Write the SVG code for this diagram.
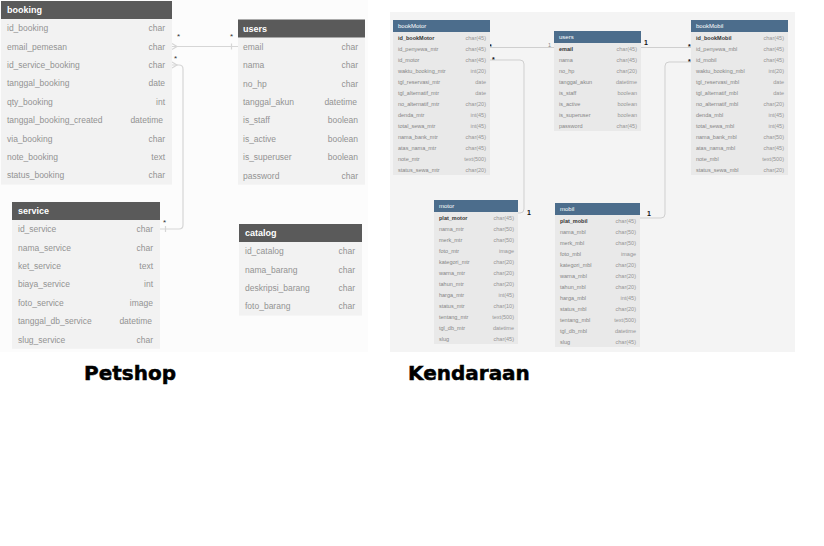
<svg xmlns="http://www.w3.org/2000/svg" width="824" height="546" viewBox="0 0 824 546">
<style>
.lh{fill:#5a5a5a}
.lb{fill:#f2f2f2}
.lht{font-family:"Liberation Sans",Arial,sans-serif;font-size:9px;font-weight:bold;fill:#fff}
.ln{font-family:"Liberation Sans",Arial,sans-serif;font-size:8.5px;fill:#929292}
.lt{font-family:"Liberation Sans",Arial,sans-serif;font-size:8.5px;fill:#929292;text-anchor:end}
.rh{fill:#4c6d8c}
.rb{fill:#e9e9e9}
.rht{font-family:"Liberation Sans",Arial,sans-serif;font-size:6px;fill:#fff}
.rn{font-family:"Liberation Sans",Arial,sans-serif;font-size:5.5px;fill:#858585}
.rk{font-family:"Liberation Sans",Arial,sans-serif;font-size:5.5px;font-weight:bold;fill:#333}
.rt{font-family:"Liberation Sans",Arial,sans-serif;font-size:5.5px;fill:#959595;text-anchor:end}
.lc{fill:none;stroke:#d6d6d6;stroke-width:1.2}
.rc{fill:none;stroke:#cfcfcf;stroke-width:1}
.st{font-family:"Liberation Sans",Arial,sans-serif;font-size:8px;fill:#333}
.sr{font-family:"Liberation Sans",Arial,sans-serif;font-size:7px;font-weight:bold;fill:#111}
.one{font-family:"Liberation Sans",Arial,sans-serif;font-size:7px;font-weight:bold;fill:#111}
.title{font-family:"DejaVu Sans",sans-serif;font-size:20px;font-weight:bold;fill:#000;stroke:#000;stroke-width:0.5}
</style>
<rect x="0" y="0" width="824" height="546" fill="#ffffff"/>
<rect x="0" y="0" width="368" height="352" fill="#fcfcfc"/>
<rect x="390" y="12" width="405" height="340" fill="#f4f4f4"/>

<g id="connectors">
  <path class="lc" d="M172,46.5 H238"/>
  <path class="lc" d="M172,43.5 L177,46.5 L172,49.5"/>
  <path class="lc" d="M231.5,43.5 V49.5"/>
  <text class="st" x="177" y="39">*</text>
  <text class="st" x="230" y="39">*</text>
  <path class="lc" d="M172,65 H179 Q183,65 183,69 V225 Q183,229 179,229 H160"/>
  <path class="lc" d="M172,62 L177,65 L172,68"/>
  <path class="lc" d="M165.5,226 V232"/>
  <text class="st" x="174" y="61">*</text>
  <text class="st" x="163" y="225">*</text>

  <path class="rc" d="M490,47.5 H554"/>
  <text class="sr" x="489" y="49">*</text>
  <text class="rn" x="548" y="47">1</text>
  <path class="rc" d="M490,60 H520 Q524,60 524,64 V209 Q524,213 520,213 H518"/>
  <text class="sr" x="492" y="62">*</text>
  <text class="one" x="527" y="215">1</text>
  <path class="rc" d="M641,47.5 H691"/>
  <text class="one" x="644" y="45">1</text>
  <text class="sr" x="688" y="49">*</text>
  <path class="rc" d="M640,218 H661 Q665,218 665,214 V66 Q665,62 669,62 H691"/>
  <text class="one" x="647" y="216">1</text>
  <text class="sr" x="688" y="64">*</text>
</g>

<g id="booking">
  <rect class="lb" x="1" y="19" width="171" height="165.6"/>
  <rect class="lh" x="1" y="1" width="171" height="18"/>
  <text class="lht" x="7" y="13">booking</text>
  <text class="ln" x="7" y="31.2">id_booking</text><text class="lt" x="165" y="31.2">char</text>
  <text class="ln" x="7" y="49.6">email_pemesan</text><text class="lt" x="165" y="49.6">char</text>
  <text class="ln" x="7" y="68">id_service_booking</text><text class="lt" x="165" y="68">char</text>
  <text class="ln" x="7" y="86.4">tanggal_booking</text><text class="lt" x="165" y="86.4">date</text>
  <text class="ln" x="7" y="104.8">qty_booking</text><text class="lt" x="165" y="104.8">int</text>
  <text class="ln" x="7" y="123.2">tanggal_booking_created</text><text class="lt" x="163" y="123.2">datetime</text>
  <text class="ln" x="7" y="141.6">via_booking</text><text class="lt" x="165" y="141.6">char</text>
  <text class="ln" x="7" y="160">note_booking</text><text class="lt" x="165" y="160">text</text>
  <text class="ln" x="7" y="178.4">status_booking</text><text class="lt" x="165" y="178.4">char</text>
</g>

<g id="users">
  <rect class="lb" x="238" y="37.5" width="127" height="147.2"/>
  <rect class="lh" x="238" y="19.5" width="127" height="18"/>
  <text class="lht" x="243" y="31.5">users</text>
  <text class="ln" x="243" y="49.7">email</text><text class="lt" x="358" y="49.7">char</text>
  <text class="ln" x="243" y="68.1">nama</text><text class="lt" x="358" y="68.1">char</text>
  <text class="ln" x="243" y="86.5">no_hp</text><text class="lt" x="358" y="86.5">char</text>
  <text class="ln" x="243" y="104.9">tanggal_akun</text><text class="lt" x="357" y="104.9">datetime</text>
  <text class="ln" x="243" y="123.3">is_staff</text><text class="lt" x="358" y="123.3">boolean</text>
  <text class="ln" x="243" y="141.7">is_active</text><text class="lt" x="358" y="141.7">boolean</text>
  <text class="ln" x="243" y="160.1">is_superuser</text><text class="lt" x="358" y="160.1">boolean</text>
  <text class="ln" x="243" y="178.5">password</text><text class="lt" x="358" y="178.5">char</text>
</g>

<g id="service">
  <rect class="lb" x="12" y="220" width="148" height="128.8"/>
  <rect class="lh" x="12" y="202" width="148" height="18"/>
  <text class="lht" x="18" y="214">service</text>
  <text class="ln" x="18" y="232.2">id_service</text><text class="lt" x="153" y="232.2">char</text>
  <text class="ln" x="18" y="250.6">nama_service</text><text class="lt" x="153" y="250.6">char</text>
  <text class="ln" x="18" y="269">ket_service</text><text class="lt" x="153" y="269">text</text>
  <text class="ln" x="18" y="287.4">biaya_service</text><text class="lt" x="153" y="287.4">int</text>
  <text class="ln" x="18" y="305.8">foto_service</text><text class="lt" x="153" y="305.8">image</text>
  <text class="ln" x="18" y="324.2">tanggal_db_service</text><text class="lt" x="152" y="324.2">datetime</text>
  <text class="ln" x="18" y="342.6">slug_service</text><text class="lt" x="153" y="342.6">char</text>
</g>

<g id="catalog">
  <rect class="lb" x="239" y="242" width="123" height="73.6"/>
  <rect class="lh" x="239" y="224" width="123" height="18"/>
  <text class="lht" x="245" y="236">catalog</text>
  <text class="ln" x="245" y="254.2">id_catalog</text><text class="lt" x="355" y="254.2">char</text>
  <text class="ln" x="245" y="272.6">nama_barang</text><text class="lt" x="355" y="272.6">char</text>
  <text class="ln" x="245" y="291">deskripsi_barang</text><text class="lt" x="355" y="291">char</text>
  <text class="ln" x="245" y="309.4">foto_barang</text><text class="lt" x="355" y="309.4">char</text>
</g>

<g id="bookMotor">
  <rect class="rb" x="393" y="32" width="97" height="143"/>
  <rect class="rh" x="393" y="20" width="97" height="12"/>
  <text class="rht" x="398" y="28.2">bookMotor</text>
  <text class="rk" x="398" y="39.5">id_bookMotor</text><text class="rt" x="486" y="39.5">char(45)</text>
  <text class="rn" x="398" y="50.5">id_penyewa_mtr</text><text class="rt" x="486" y="50.5">char(45)</text>
  <text class="rn" x="398" y="61.5">id_motor</text><text class="rt" x="486" y="61.5">char(45)</text>
  <text class="rn" x="398" y="72.5">waktu_booking_mtr</text><text class="rt" x="486" y="72.5">int(20)</text>
  <text class="rn" x="398" y="83.5">tgl_reservasi_mtr</text><text class="rt" x="486" y="83.5">date</text>
  <text class="rn" x="398" y="94.5">tgl_alternatif_mtr</text><text class="rt" x="486" y="94.5">date</text>
  <text class="rn" x="398" y="105.5">no_alternatif_mtr</text><text class="rt" x="486" y="105.5">char(20)</text>
  <text class="rn" x="398" y="116.5">denda_mtr</text><text class="rt" x="486" y="116.5">int(45)</text>
  <text class="rn" x="398" y="127.5">total_sewa_mtr</text><text class="rt" x="486" y="127.5">int(45)</text>
  <text class="rn" x="398" y="138.5">nama_bank_mtr</text><text class="rt" x="486" y="138.5">char(45)</text>
  <text class="rn" x="398" y="149.5">atas_nama_mtr</text><text class="rt" x="486" y="149.5">char(45)</text>
  <text class="rn" x="398" y="160.5">note_mtr</text><text class="rt" x="486" y="160.5">text(500)</text>
  <text class="rn" x="398" y="171.5">status_sewa_mtr</text><text class="rt" x="486" y="171.5">char(20)</text>
</g>

<g id="users2">
  <rect class="rb" x="554" y="43" width="87" height="88"/>
  <rect class="rh" x="554" y="31" width="87" height="12"/>
  <text class="rht" x="559" y="39.2">users</text>
  <text class="rk" x="559" y="50.5">email</text><text class="rt" x="637" y="50.5">char(45)</text>
  <text class="rn" x="559" y="61.5">nama</text><text class="rt" x="637" y="61.5">char(45)</text>
  <text class="rn" x="559" y="72.5">no_hp</text><text class="rt" x="637" y="72.5">char(20)</text>
  <text class="rn" x="559" y="83.5">tanggal_akun</text><text class="rt" x="637" y="83.5">datetime</text>
  <text class="rn" x="559" y="94.5">is_staff</text><text class="rt" x="637" y="94.5">boolean</text>
  <text class="rn" x="559" y="105.5">is_active</text><text class="rt" x="637" y="105.5">boolean</text>
  <text class="rn" x="559" y="116.5">is_superuser</text><text class="rt" x="637" y="116.5">boolean</text>
  <text class="rn" x="559" y="127.5">password</text><text class="rt" x="637" y="127.5">char(45)</text>
</g>

<g id="bookMobil">
  <rect class="rb" x="691" y="32" width="97" height="143"/>
  <rect class="rh" x="691" y="20" width="97" height="12"/>
  <text class="rht" x="696" y="28.2">bookMobil</text>
  <text class="rk" x="696" y="39.5">id_bookMobil</text><text class="rt" x="784" y="39.5">char(45)</text>
  <text class="rn" x="696" y="50.5">id_penyewa_mbl</text><text class="rt" x="784" y="50.5">char(45)</text>
  <text class="rn" x="696" y="61.5">id_mobil</text><text class="rt" x="784" y="61.5">char(45)</text>
  <text class="rn" x="696" y="72.5">waktu_booking_mbl</text><text class="rt" x="784" y="72.5">int(20)</text>
  <text class="rn" x="696" y="83.5">tgl_reservasi_mbl</text><text class="rt" x="784" y="83.5">date</text>
  <text class="rn" x="696" y="94.5">tgl_alternatif_mbl</text><text class="rt" x="784" y="94.5">date</text>
  <text class="rn" x="696" y="105.5">no_alternatif_mbl</text><text class="rt" x="784" y="105.5">char(20)</text>
  <text class="rn" x="696" y="116.5">denda_mbl</text><text class="rt" x="784" y="116.5">int(45)</text>
  <text class="rn" x="696" y="127.5">total_sewa_mbl</text><text class="rt" x="784" y="127.5">int(45)</text>
  <text class="rn" x="696" y="138.5">nama_bank_mbl</text><text class="rt" x="784" y="138.5">char(50)</text>
  <text class="rn" x="696" y="149.5">atas_nama_mbl</text><text class="rt" x="784" y="149.5">char(45)</text>
  <text class="rn" x="696" y="160.5">note_mbl</text><text class="rt" x="784" y="160.5">text(500)</text>
  <text class="rn" x="696" y="171.5">status_sewa_mbl</text><text class="rt" x="784" y="171.5">char(20)</text>
</g>

<g id="motor">
  <rect class="rb" x="434" y="212" width="84" height="132"/>
  <rect class="rh" x="434" y="200" width="84" height="12"/>
  <text class="rht" x="439" y="208.2">motor</text>
  <text class="rk" x="439" y="219.5">plat_motor</text><text class="rt" x="514" y="219.5">char(45)</text>
  <text class="rn" x="439" y="230.5">nama_mtr</text><text class="rt" x="514" y="230.5">char(50)</text>
  <text class="rn" x="439" y="241.5">merk_mtr</text><text class="rt" x="514" y="241.5">char(50)</text>
  <text class="rn" x="439" y="252.5">foto_mtr</text><text class="rt" x="514" y="252.5">image</text>
  <text class="rn" x="439" y="263.5">kategori_mtr</text><text class="rt" x="514" y="263.5">char(20)</text>
  <text class="rn" x="439" y="274.5">warna_mtr</text><text class="rt" x="514" y="274.5">char(20)</text>
  <text class="rn" x="439" y="285.5">tahun_mtr</text><text class="rt" x="514" y="285.5">char(20)</text>
  <text class="rn" x="439" y="296.5">harga_mtr</text><text class="rt" x="514" y="296.5">int(45)</text>
  <text class="rn" x="439" y="307.5">status_mtr</text><text class="rt" x="514" y="307.5">char(10)</text>
  <text class="rn" x="439" y="318.5">tentang_mtr</text><text class="rt" x="514" y="318.5">text(500)</text>
  <text class="rn" x="439" y="329.5">tgl_db_mtr</text><text class="rt" x="514" y="329.5">datetime</text>
  <text class="rn" x="439" y="340.5">slug</text><text class="rt" x="514" y="340.5">char(45)</text>
</g>

<g id="mobil">
  <rect class="rb" x="555" y="215" width="85" height="132"/>
  <rect class="rh" x="555" y="203" width="85" height="12"/>
  <text class="rht" x="560" y="211.2">mobil</text>
  <text class="rk" x="560" y="222.5">plat_mobil</text><text class="rt" x="636" y="222.5">char(45)</text>
  <text class="rn" x="560" y="233.5">nama_mbl</text><text class="rt" x="636" y="233.5">char(50)</text>
  <text class="rn" x="560" y="244.5">merk_mbl</text><text class="rt" x="636" y="244.5">char(50)</text>
  <text class="rn" x="560" y="255.5">foto_mbl</text><text class="rt" x="636" y="255.5">image</text>
  <text class="rn" x="560" y="266.5">kategori_mbl</text><text class="rt" x="636" y="266.5">char(20)</text>
  <text class="rn" x="560" y="277.5">warna_mbl</text><text class="rt" x="636" y="277.5">char(20)</text>
  <text class="rn" x="560" y="288.5">tahun_mbl</text><text class="rt" x="636" y="288.5">char(20)</text>
  <text class="rn" x="560" y="299.5">harga_mbl</text><text class="rt" x="636" y="299.5">int(45)</text>
  <text class="rn" x="560" y="310.5">status_mbl</text><text class="rt" x="636" y="310.5">char(20)</text>
  <text class="rn" x="560" y="321.5">tentang_mbl</text><text class="rt" x="636" y="321.5">text(500)</text>
  <text class="rn" x="560" y="332.5">tgl_db_mbl</text><text class="rt" x="636" y="332.5">datetime</text>
  <text class="rn" x="560" y="343.5">slug</text><text class="rt" x="636" y="343.5">char(45)</text>
</g>

<text class="title" x="84" y="380">Petshop</text>
<text class="title" x="408" y="380">Kendaraan</text>
</svg>
